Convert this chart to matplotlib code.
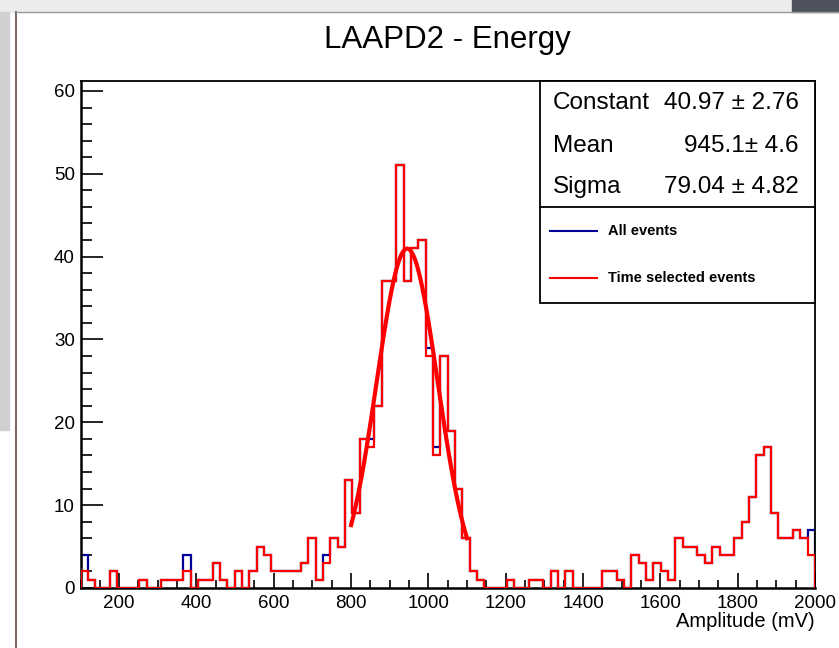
import numpy as np
import matplotlib
matplotlib.use("Agg")
import matplotlib.pyplot as plt
from matplotlib.patches import Rectangle
from matplotlib.lines import Line2D
from matplotlib.ticker import MultipleLocator

plt.rcParams["font.family"] = ["Liberation Sans", "DejaVu Sans"]

# histogram binning (mV)
amp_min, amp_max, n_bins = 100, 2000, 100

# counts per bin, time selected events
time_selected = [2, 1, 0, 0, 2, 0, 0, 0, 1, 0,
                 0, 1, 1, 1, 2, 0, 1, 1, 3, 1,
                 0, 2, 0, 2, 5, 4, 2, 2, 2, 2,
                 3, 6, 1, 3, 6, 5, 13, 9, 18, 17,
                 22, 37, 37, 51, 37, 41, 42, 28, 16, 28,
                 19, 12, 6, 2, 1, 0, 0, 0, 1, 0,
                 0, 1, 1, 0, 2, 0, 2, 0, 0, 0,
                 0, 2, 2, 1, 0, 4, 3, 1, 3, 2,
                 1, 6, 5, 5, 4, 3, 5, 4, 4, 6,
                 8, 11, 16, 17, 9, 6, 6, 7, 6, 4]

# all events: same except a few bins
all_events = list(time_selected)
for b, v in {0: 4, 14: 4, 33: 4, 39: 18, 47: 29, 48: 17, 99: 7}.items():
    all_events[b] = v

# gaussian fit results
fit_const, fit_const_err = 40.97, 2.76
fit_mean, fit_mean_err = 945.1, 4.6
fit_sigma, fit_sigma_err = 79.04, 4.82
fit_lo, fit_hi = 800, 1100

W, H = 839, 648
fig = plt.figure(figsize=(W / 100, H / 100), dpi=100)


def fx(px):
    return px / W


def fy(py):
    return 1 - py / H


# screenshot decorations around the canvas
fig.patches.append(Rectangle((0, fy(12)), fx(792), 12 / H, transform=fig.transFigure,
                             color="#ececec", zorder=0))
fig.patches.append(Rectangle((fx(792), fy(12)), fx(W - 792), 12 / H, transform=fig.transFigure,
                             color="#4d525c", zorder=0))
fig.patches.append(Rectangle((0, fy(430)), fx(9), (430 - 12) / H, transform=fig.transFigure,
                             color="#d0d0d0", zorder=0))
fig.lines.append(Line2D([fx(16), fx(16)], [0, fy(12)], transform=fig.transFigure,
                        color="#7d6b62", lw=1.5))
fig.lines.append(Line2D([fx(16), 1], [fy(12), fy(12)], transform=fig.transFigure,
                        color="#9a9a9a", lw=1.0))

ax = fig.add_axes([fx(80.5), fy(588), fx(815 - 80.5), (588 - 81) / H])

edges = np.linspace(amp_min, amp_max, n_bins + 1)
ax.stairs(all_events, edges, color="#000099", lw=1.6, zorder=2)
ax.stairs(time_selected, edges, color="#ff0000", lw=1.6, zorder=3)

xf = np.linspace(fit_lo, fit_hi, 300)
ax.plot(xf, fit_const * np.exp(-0.5 * ((xf - fit_mean) / fit_sigma) ** 2),
        color="#ff0000", lw=3.0, zorder=4)

ax.set_xlim(amp_min, amp_max)
ax.set_ylim(0, 61.2)
ax.xaxis.set_major_locator(MultipleLocator(200))
ax.xaxis.set_minor_locator(MultipleLocator(50))
ax.yaxis.set_major_locator(MultipleLocator(10))
ax.yaxis.set_minor_locator(MultipleLocator(2))

ax.tick_params(which="both", direction="in", top=False, right=False, width=1.2,
               labelsize=13.5, colors="black")
ax.tick_params(axis="y", which="major", length=16, pad=4)
ax.tick_params(axis="y", which="minor", length=8)
ax.tick_params(axis="x", which="major", length=11, pad=5)
ax.tick_params(axis="x", which="minor", length=5.5)
for side in ["left", "bottom"]:
    ax.spines[side].set_linewidth(1.8)
for side in ["top", "right"]:
    ax.spines[side].set_linewidth(1.3)

ax.set_xlabel("Amplitude (mV)", fontsize=14.5, loc="right", labelpad=0)
ax.set_title("LAAPD2 - Energy", fontsize=22.5, pad=24)

# stats box + legend box
fig.patches.append(Rectangle((fx(540), fy(303)), fx(815 - 540), (303 - 81) / H,
                             transform=fig.transFigure, facecolor="white",
                             edgecolor="black", lw=1.3, zorder=5))
fig.lines.append(Line2D([fx(540), fx(815)], [fy(207.5), fy(207.5)],
                        transform=fig.transFigure, color="black", lw=1.3, zorder=6))

rows = [("Constant", f"{fit_const:.2f} \u00b1 {fit_const_err:.2f}", 103),
        ("Mean", f"{fit_mean:.1f}\u00b1 {fit_mean_err:.1f}", 146),
        ("Sigma", f"{fit_sigma:.2f} \u00b1 {fit_sigma_err:.2f}", 187)]
for name, val, yc in rows:
    fig.text(fx(553), fy(yc), name, fontsize=17.5, va="center", ha="left", zorder=7)
    fig.text(fx(799), fy(yc), val, fontsize=17.5, va="center", ha="right", zorder=7)

legend_items = [("All events", "#000099", 231), ("Time selected events", "#ff0000", 278)]
for label, col, yc in legend_items:
    fig.lines.append(Line2D([fx(550), fx(597)], [fy(yc), fy(yc)], transform=fig.transFigure,
                            color=col, lw=1.5, zorder=7))
    fig.text(fx(608), fy(yc), label, fontsize=10.5, fontweight="bold", va="center",
             ha="left", zorder=7)

fig.savefig("out.png", dpi=100)
